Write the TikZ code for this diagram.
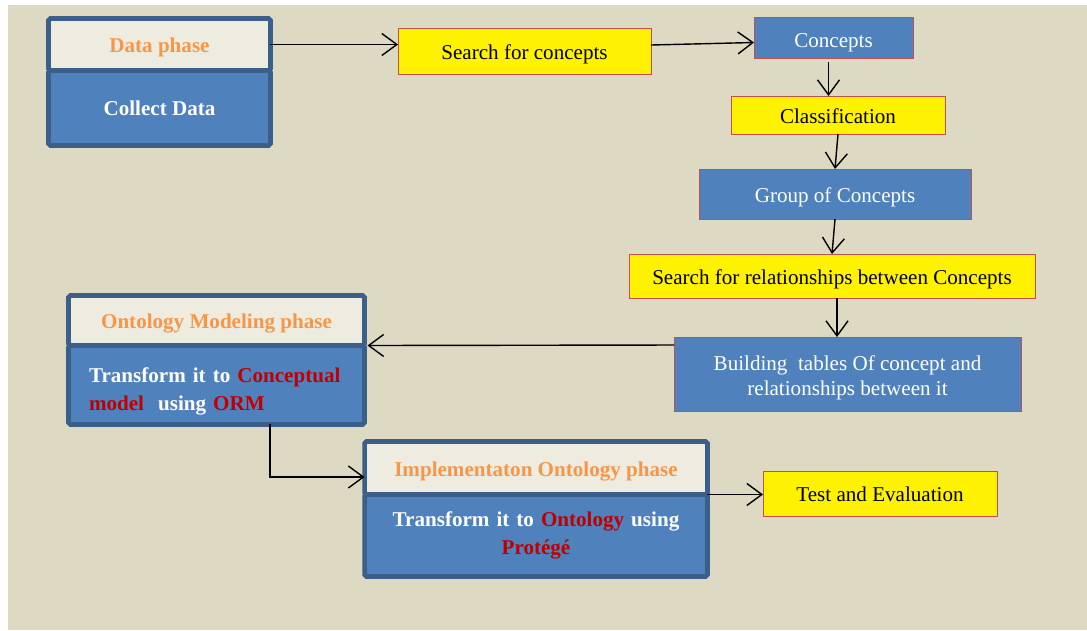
\documentclass[tikz,border=0pt]{standalone}
\usepackage{fontspec}
\setmainfont{Liberation Serif}
\usetikzlibrary{positioning,arrows.meta}

\definecolor{bgtan}{RGB}{221,217,195}
\definecolor{phaseborder}{RGB}{58,95,139}
\definecolor{titlefill}{RGB}{238,236,225}
\definecolor{titleorange}{RGB}{247,150,70}
\definecolor{bodyblue}{RGB}{79,129,189}
\definecolor{boxedge}{RGB}{192,80,77}
\definecolor{wordred}{RGB}{192,0,0}

\newcommand{\redword}[1]{\textcolor{wordred}{#1}}

\begin{document}
\begin{tikzpicture}[
    x=0.02cm, y=-0.02cm,
    phasetitle/.style={rectangle, draw=phaseborder, line width=2.6pt, fill=titlefill, text=titleorange, font=\fontsize{12}{14}\selectfont\bfseries, outer sep=0pt, rounded corners=1pt, textdown},
    phasebody/.style={rectangle, draw=phaseborder, line width=2.6pt, fill=bodyblue, text=white, font=\fontsize{12}{16}\selectfont\bfseries, outer sep=0pt, rounded corners=1pt},
    yellowbox/.style={rectangle, draw=boxedge, fill=yellow, font=\fontsize{12}{14}\selectfont, outer sep=0pt, textdown},
    bluebox/.style={rectangle, draw=boxedge, fill=bodyblue, text=white, font=\fontsize{12}{14}\selectfont, outer sep=0pt, align=center},
    textdown/.style={text height=12pt, text depth=2.5pt},
    flow/.style={-{Straight Barb[length=3mm,width=4.4mm]}, line width=0.8pt}
]
    % Background
    \useasboundingbox (0,0) rectangle (1087,630);
    \fill[bgtan] (8,5) rectangle (1087,630);

    % Data phase
    \node[phasetitle, minimum width=4.44cm, minimum height=1.04cm] (datatitle) at (159.5,44.5) {Data phase};
    \node[phasebody, minimum width=4.44cm, minimum height=1.5cm, below=0pt of datatitle] (databody) {Collect Data};

    % Concept boxes
    \node[yellowbox, minimum width=5.06cm, minimum height=0.92cm] (searchcon) at (524.5,51) {Search for concepts};
    \node[bluebox, minimum width=3.18cm, minimum height=0.82cm, text height=14pt, text depth=2.5pt] (concepts) at (833.5,37.5) {Concepts};
    \node[yellowbox, minimum width=4.28cm, minimum height=0.76cm] (classif) at (838,115) {Classification};
    \node[bluebox, minimum width=5.44cm, minimum height=1cm, textdown] (group) at (835,194) {Group of Concepts};
    \node[yellowbox, minimum width=8.12cm, minimum height=0.88cm] (searchrel) at (832,276) {Search for relationships between Concepts};
    \node[bluebox, minimum width=6.94cm, minimum height=1.48cm] (building) at (847.5,374) {\rule{0pt}{13pt}Building~ tables Of concept and\\relationships between it};

    % Ontology Modeling phase
    \node[phasetitle, minimum width=5.92cm, minimum height=1cm] (onttitle) at (216.5,320.5) {Ontology Modeling phase};
    \node[phasebody, minimum width=5.92cm, minimum height=1.58cm, text width=5.1cm, align=left, below=0pt of onttitle] (ontbody)
        {\rule{0pt}{16pt}Transform it to \redword{Conceptual}\\\redword{model}~ using \redword{ORM}};

    % Implementation phase
    \node[phasetitle, minimum width=6.86cm, minimum height=1.06cm] (impltitle) at (536,468) {Implementaton Ontology phase};
    \node[phasebody, minimum width=6.86cm, minimum height=1.64cm, text width=6cm, align=center, below=0pt of impltitle] (implbody)
        {Transform it to \redword{Ontology} using\\\redword{Protégé}};

    \node[yellowbox, minimum width=4.68cm, minimum height=0.9cm] (test) at (880,493.5) {Test and Evaluation};

    % Arrows
    \draw[flow] (datatitle.east) -- (datatitle.east -| searchcon.west);
    \draw[flow] ([yshift=0.12cm]searchcon.east) -- ([yshift=-0.1cm]concepts.west);
    \draw[flow] ([xshift=-0.1cm,yshift=-0.08cm]concepts.south) -- ([xshift=-0.1cm]concepts.south |- classif.north);
    \draw[flow] (classif.south) -- (group.north);
    \draw[flow] (group.south) -- (searchrel.north);
    \draw[flow] ([xshift=0.1cm]searchrel.south) -- ([xshift=0.1cm]searchrel.south |- building.north);
    \draw[flow] ([yshift=0.58cm]building.west) -- ([xshift=0.06cm]onttitle.south east);
    \draw[flow] ([xshift=1.07cm]ontbody.south) |- ([yshift=0.35cm]impltitle.south west);
    \draw[flow] (implbody.north east) -- (implbody.north east -| test.west);
\end{tikzpicture}
\end{document}
